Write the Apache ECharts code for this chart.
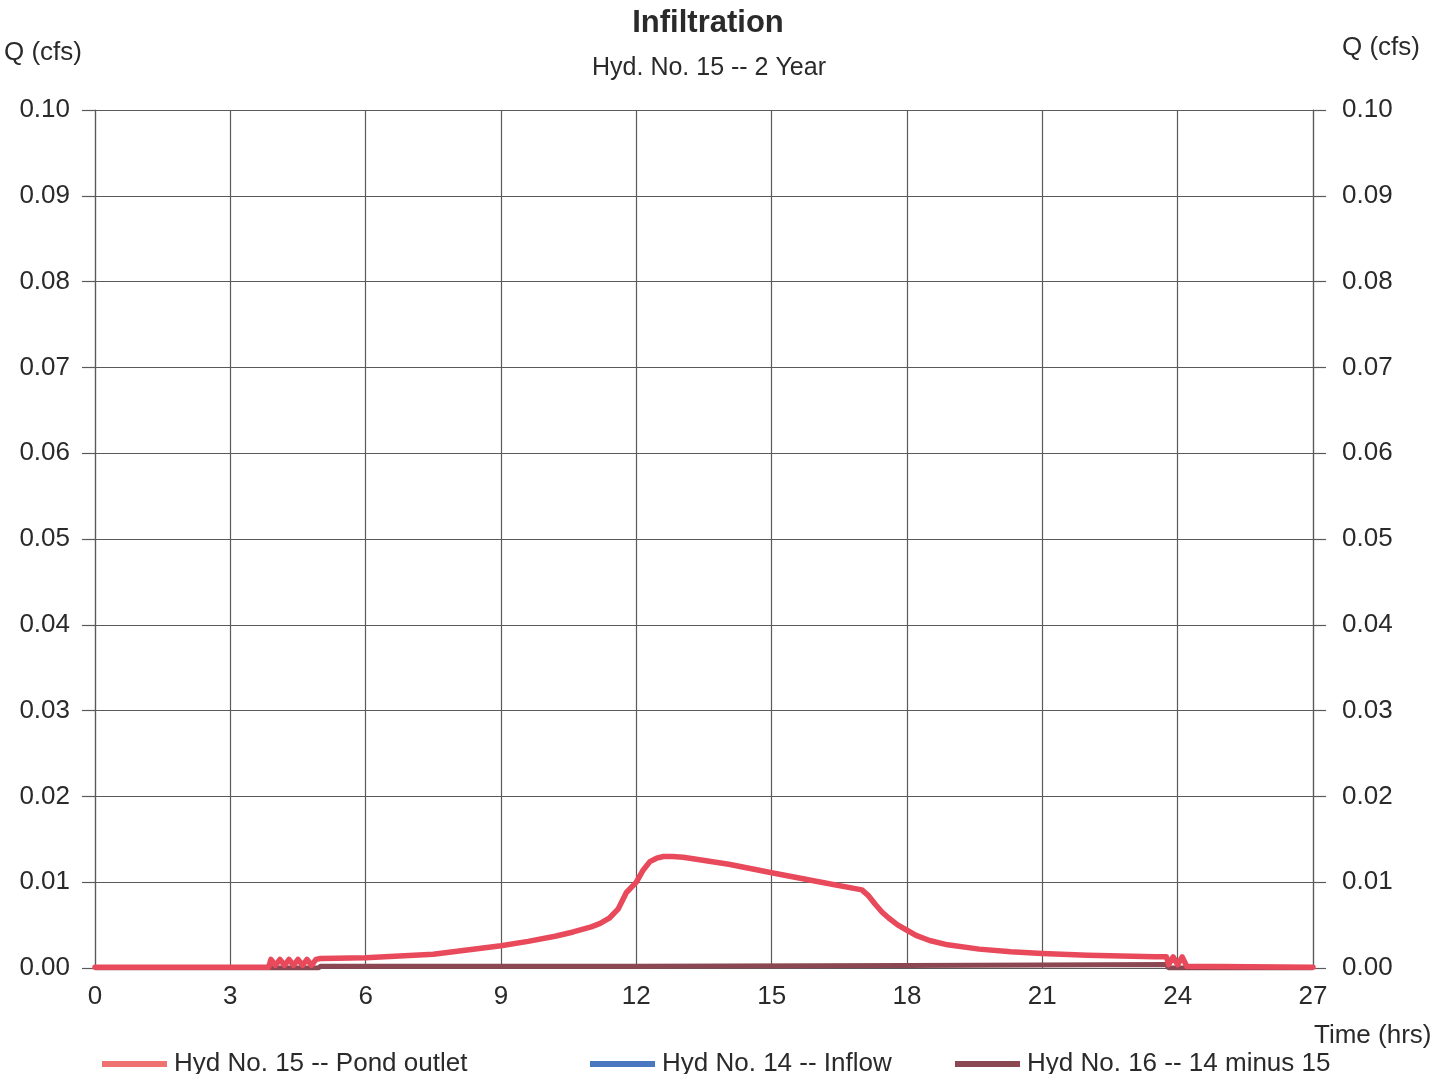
<!DOCTYPE html>
<html>
<head>
<meta charset="utf-8">
<script src="https://cdn.jsdelivr.net/npm/echarts@6/dist/echarts.min.js"></script>
<style>
html,body{margin:0;padding:0;background:#fff;}
#chart{width:1436px;height:1074px;}
</style>
</head>
<body>
<div id="chart"></div>
<script>
// Time ticks (hrs) and Q ticks (cfs)
const xTicks = [0, 3, 6, 9, 12, 15, 18, 21, 24, 27];
const yTicks = [0.00, 0.01, 0.02, 0.03, 0.04, 0.05, 0.06, 0.07, 0.08, 0.09, 0.10];

// Hyd No. 15 -- Pond outlet
const outletT = [0, 3.85, 3.9, 4.0, 4.1, 4.2, 4.3, 4.4, 4.5, 4.6, 4.7, 4.8, 4.9, 5.0, 6.0, 7.5, 9.0, 9.6, 10.2, 10.6, 11.0, 11.2, 11.4, 11.6, 11.78, 12.0, 12.15, 12.3, 12.45, 12.6, 12.8, 13.04, 14.05, 15.0, 16.1, 17.0, 17.15, 17.3, 17.45, 17.6, 17.8, 18.0, 18.2, 18.5, 18.9, 19.6, 20.3, 21.0, 22.0, 23.5, 23.75, 23.8, 23.9, 24.0, 24.1, 24.2, 27.0];
const outletQ = [0.0001, 0.0001, 0.0010, 0.0003, 0.0010, 0.0003, 0.0010, 0.0003, 0.0010, 0.0003, 0.0010, 0.0003, 0.0010, 0.0011, 0.0012, 0.0016, 0.0026, 0.0031, 0.0037, 0.0042, 0.0048, 0.0052, 0.0058, 0.0069, 0.0088, 0.0100, 0.0114, 0.0124, 0.0128, 0.0130, 0.0130, 0.0129, 0.0121, 0.0111, 0.0100, 0.0091, 0.0084, 0.0074, 0.0065, 0.0058, 0.0050, 0.0044, 0.0038, 0.0032, 0.0027, 0.0022, 0.0019, 0.0017, 0.0015, 0.0013, 0.0013, 0.0004, 0.0013, 0.0004, 0.0013, 0.0002, 0.0001];

// Hyd No. 14 -- Inflow (coincides with the outlet curve, hidden under it)
const inflowT = [0, 3.85, 3.9, 4.0, 4.1, 4.2, 4.3, 4.4, 4.5, 4.6, 4.7, 4.8, 4.9, 5.0, 6.0, 7.5, 9.0, 9.6, 10.2, 10.6, 11.0, 11.2, 11.4, 11.6, 11.78, 12.0, 12.15, 12.3, 12.45, 12.6, 12.8, 13.04, 14.05, 15.0, 16.1, 17.0, 17.15, 17.3, 17.45, 17.6, 17.8, 18.0, 18.2, 18.5, 18.9, 19.6, 20.3, 21.0, 22.0, 23.5, 23.75, 23.8, 23.9, 24.0, 24.1, 24.2, 27.0];
const inflowQ = [0.0001, 0.0001, 0.0010, 0.0003, 0.0010, 0.0003, 0.0010, 0.0003, 0.0010, 0.0003, 0.0010, 0.0003, 0.0010, 0.0011, 0.0012, 0.0016, 0.0026, 0.0031, 0.0037, 0.0042, 0.0048, 0.0052, 0.0058, 0.0069, 0.0088, 0.0100, 0.0114, 0.0124, 0.0128, 0.0130, 0.0130, 0.0129, 0.0121, 0.0111, 0.0100, 0.0091, 0.0084, 0.0074, 0.0065, 0.0058, 0.0050, 0.0044, 0.0038, 0.0032, 0.0027, 0.0022, 0.0019, 0.0017, 0.0015, 0.0013, 0.0013, 0.0004, 0.0013, 0.0004, 0.0013, 0.0002, 0.0001];

// Hyd No. 16 -- 14 minus 15
const diffT = [0, 4.95, 5.0, 12.0, 18.0, 23.75, 23.8, 27.0];
const diffQ = [0, 0, 0.0002, 0.0002, 0.0003, 0.0004, 0, 0];

const names = ['Hyd No. 15 -- Pond outlet', 'Hyd No. 14 -- Inflow', 'Hyd No. 16 -- 14 minus 15'];
const colors = ['#e84a5b', '#4a78c0', '#8c4852'];
const legendColors = ['#ef7272', '#4a78c0', '#8c4852'];

function pairs(t, q) { return t.map((v, i) => [v, q[i]]); }

const FONT = 'Liberation Sans, Arial, sans-serif';
const TXT = '#2a2a2a';
const GRID = '#5a5a5a';
const FS = 26;

const chart = echarts.init(document.getElementById('chart'), null, {renderer: 'canvas'});

function legendAt(i, left) {
  return {
    left: left, top: 1046,
    data: [{name: names[i], itemStyle: {color: legendColors[i]}}],
    icon: 'rect', itemWidth: 65, itemHeight: 6,
    selectedMode: false,
    textStyle: {fontFamily: FONT, fontSize: FS, color: TXT, padding: [0, 0, 0, 2]}
  };
}

const yLabel = v => yTicks.find(t => Math.abs(t - v) < 1e-9).toFixed(2);

chart.setOption({
  animation: false,
  backgroundColor: '#fff',
  title: [
    {text: 'Infiltration', left: 703, top: 3, textAlign: 'center',
     textStyle: {fontFamily: FONT, fontSize: 31, fontWeight: 'bold', color: TXT}},
    {text: 'Hyd. No. 15 -- 2 Year', left: 704, top: 51, textAlign: 'center',
     textStyle: {fontFamily: FONT, fontSize: 25, fontWeight: 'normal', color: TXT}}
  ],
  graphic: [
    {type: 'text', left: 4, top: 40, style: {text: 'Q (cfs)', font: FS + 'px ' + FONT, fill: TXT}},
    {type: 'text', left: 1342, top: 35, style: {text: 'Q (cfs)', font: FS + 'px ' + FONT, fill: TXT}},
    {type: 'text', left: 1314, top: 1023, style: {text: 'Time (hrs)', font: FS + 'px ' + FONT, fill: TXT}}
  ],
  legend: [legendAt(0, 97), legendAt(1, 585), legendAt(2, 950)],
  grid: {left: 95, right: 123, top: 110, bottom: 106, containLabel: false},
  xAxis: {
    type: 'value', min: xTicks[0], max: xTicks[xTicks.length - 1], interval: 3,
    axisLine: {show: true, lineStyle: {color: GRID, width: 1.2}},
    axisTick: {show: false},
    axisLabel: {margin: 16, fontFamily: FONT, fontSize: FS, color: TXT,
      formatter: v => xTicks.includes(v) ? String(v) : ''},
    splitLine: {show: true, lineStyle: {color: GRID, width: 1.2}}
  },
  yAxis: [
    {type: 'value', min: 0, max: 0.1, interval: 0.01, position: 'left',
     axisLine: {show: true, lineStyle: {color: GRID, width: 1.2}},
     axisTick: {show: true, inside: false, length: 13, lineStyle: {color: GRID, width: 1.2}},
     axisLabel: {margin: 25, fontFamily: FONT, fontSize: FS, color: TXT, formatter: yLabel},
     splitLine: {show: true, lineStyle: {color: GRID, width: 1.2}}},
    {type: 'value', min: 0, max: 0.1, interval: 0.01, position: 'right',
     axisLine: {show: true, lineStyle: {color: GRID, width: 1.2}},
     axisTick: {show: true, inside: false, length: 13, lineStyle: {color: GRID, width: 1.2}},
     axisLabel: {margin: 29, fontFamily: FONT, fontSize: FS, color: TXT, formatter: yLabel},
     splitLine: {show: false}}
  ],
  series: [
    {name: names[1], type: 'line', data: pairs(inflowT, inflowQ), showSymbol: false, z: 2,
     lineStyle: {color: colors[1], width: 2}, itemStyle: {color: colors[1]}},
    {name: names[2], type: 'line', data: pairs(diffT, diffQ), showSymbol: false, z: 3,
     lineStyle: {color: colors[2], width: 5}, itemStyle: {color: colors[2]}},
    {name: names[0], type: 'line', data: pairs(outletT, outletQ), showSymbol: false, z: 4,
     lineStyle: {color: colors[0], width: 5.5, join: 'round', cap: 'round'}, itemStyle: {color: colors[0]}}
  ]
});
</script>
</body>
</html>
